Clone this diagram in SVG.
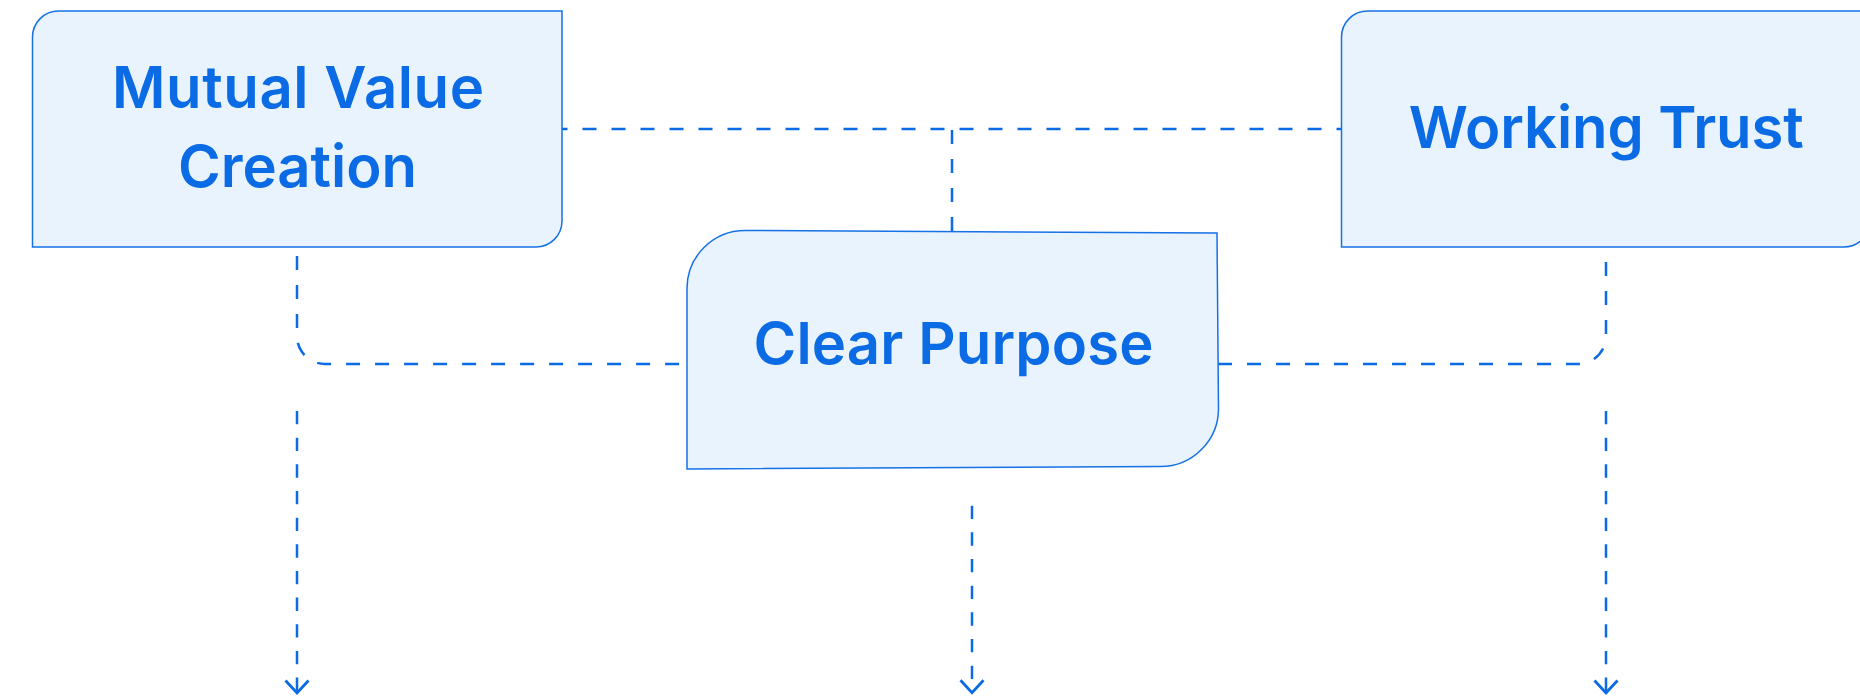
<svg xmlns="http://www.w3.org/2000/svg" width="1860" height="698" viewBox="0 0 1860 698">
  <style>
    .node { fill: #E9F3FD; stroke: #1671E6; stroke-width: 1.5; }
    .label { font-family: "Inter", "Liberation Sans", sans-serif; font-weight: 600; font-size: 58px; fill: #0A6BE5; text-anchor: middle; font-variant-ligatures: none; }
    .conn { fill: none; stroke: #0A6BE5; stroke-width: 2.5; stroke-dasharray: 14 15; }
    .flow { fill: none; stroke: #0A6BE5; stroke-width: 2.5; stroke-dasharray: 13.33 13.33; }
  </style>
  <defs>
    <marker id="chev" viewBox="-16 -16 32 32" markerWidth="32" markerHeight="32" refX="0" refY="0" markerUnits="userSpaceOnUse" orient="auto">
      <path d="M-12.5 -11.5 L0 0 L-12.5 11.5" fill="none" stroke="#0A6BE5" stroke-width="2.8" stroke-dasharray="none"/>
    </marker>
  </defs>
  <rect width="1860" height="698" fill="#FFFFFF"/>
  <g id="connectors">
    <path class="conn" d="M952 231 V129"/>
    <path class="conn" style="stroke-dashoffset:21.5" d="M952 129 H562"/>
    <path class="conn" style="stroke-dashoffset:21.5" d="M952 129 H1341"/>
    <path class="conn" style="stroke-dashoffset:20" d="M297 247 V336 A28 28 0 0 0 325 364 H687"/>
    <path class="conn" d="M1218 364 H1578 A28 28 0 0 0 1606 336 V247"/>
    <path class="flow" marker-end="url(#chev)" d="M297 411 V693"/>
    <path class="flow" marker-end="url(#chev)" d="M972 505.7 V692.7"/>
    <path class="flow" marker-end="url(#chev)" d="M1606 411 V693"/>
  </g>
  <g id="node-mutual-value-creation">
    <path class="node" d="M32.5 37 A26 26 0 0 1 58.5 11 H562 V221 A26 26 0 0 1 536 247 H32.5 Z"/>
    <text class="label" x="298" y="108.3" textLength="372" lengthAdjust="spacing">Mutual Value</text>
    <text class="label" x="297.5" y="187.3" textLength="239" lengthAdjust="spacing">Creation</text>
  </g>
  <g id="node-working-trust">
    <path class="node" d="M1341.5 37 A26 26 0 0 1 1367.5 11 H1870 V221 A26 26 0 0 1 1844 247 H1341.5 Z"/>
    <text class="label" x="1606.3" y="147.7" textLength="395" lengthAdjust="spacing">Working Trust</text>
  </g>
  <g id="node-clear-purpose">
    <path class="node" d="M687 288.5 A58 58 0 0 1 745 230.5 L1217 233 L1218.5 408.5 A58 58 0 0 1 1160.5 466.5 L687 469 Z"/>
    <text class="label" x="953.5" y="364" textLength="400" lengthAdjust="spacing">Clear Purpose</text>
  </g>
</svg>
